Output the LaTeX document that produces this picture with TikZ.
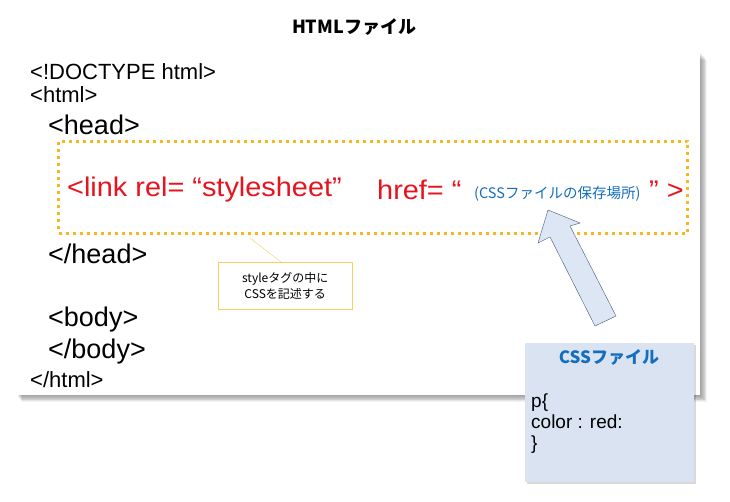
\documentclass[tikz,border=0pt]{standalone}
\usepackage{fontspec}
\setmainfont{Liberation Sans}
\newfontfamily\jp{Noto Sans CJK JP}
\definecolor{linkred}{RGB}{230,20,30}
\definecolor{dotyel}{RGB}{245,185,30}
\definecolor{cssblue}{RGB}{20,110,190}
\definecolor{cssfill}{RGB}{218,227,242}
\definecolor{arrfill}{RGB}{220,230,245}
\definecolor{arrline}{RGB}{70,90,120}
\begin{document}
\begin{tikzpicture}[x=1pt,y=-1pt,
  code/.style={anchor=west,inner sep=0pt,font=\fontsize{22}{22}\selectfont},
  big/.style={anchor=west,inner sep=0pt,font=\fontsize{27}{27}\selectfont},
  red/.style={big,text=linkred}]
\useasboundingbox (0,0) rectangle (730,502);
\fill[white] (0,0) rectangle (730,502);
\foreach \i in {1,...,8}{\fill[black,opacity=0.05] (17+\i*0.6,52+\i) rectangle (700+\i*0.9,395+\i*0.9);}
\node[draw=none,fill=white,minimum width=683pt,minimum height=343pt,anchor=north west,inner sep=0pt] (panel) at (17,52) {};
\node[font=\bfseries\jp\fontsize{18}{18}\selectfont] (title) at (354,27) {HTMLファイル};
\node[code] (l1) at (30,72) {<!DOCTYPE html>};
\node[code] (l2) at (30,95) {<html>};
\node[big] (l3) at (48,125) {<head>};
\node[draw=dotyel,line width=3pt,dash pattern=on 3pt off 4pt,minimum width=629pt,minimum height=92pt,anchor=north west,inner sep=0pt] (dots) at (57,140) {};
\node[red] (l4a) at (67,190) {\scalebox{1.07}[1]{<link rel= “stylesheet”}};
\node[red] (l4b) at (377,190) {\scalebox{1.07}[1]{href= “}};
\node[anchor=west,inner sep=0pt,text=cssblue,font=\jp\fontsize{14.5}{14.5}\selectfont] (l4c) at (474,194) {(CSSファイルの保存場所)};
\node[red] (l4d) at (649,190) {\scalebox{1.07}[1]{” >}};
\node[big] (l5) at (48,254) {</head>};
\node[big] (l6) at (48,320) {<body>};
\node[big] (l7) at (48,352) {</body>};
\node[code] (l8) at (30,380) {</html>};
\coordinate (ptr) at (250,238);
\node[draw=dotyel!70,fill=white,minimum width=134pt,minimum height=47pt,anchor=north west,inner sep=0pt] (note) at (218,262) {};
\draw[dotyel!70] (ptr) -- (281,262);
\node[align=center,font=\jp\fontsize{12}{16}\selectfont] (notet) at (note.center) {styleタグの中に\\CSSを記述する};
\fill[black,opacity=0.15] (527,345) rectangle (696,484);
\node[fill=cssfill,minimum width=169pt,minimum height=139pt,anchor=north west,inner sep=0pt] (css) at (525,343) {};
\node[font=\bfseries\jp\fontsize{17}{17}\selectfont,text=cssblue] (csst) at (609,357) {CSSファイル};
\node[anchor=north west,align=left,inner sep=0pt,font=\fontsize{19}{21}\selectfont] (cssc) at (531,394) {p\{\\color : red:\\\}};
\draw[arrline,fill=arrfill,line join=miter] (548,210) -- (580,223) -- (570,226) -- (616,316) -- (595,326) -- (550,237) -- (538,243) -- cycle;
\end{tikzpicture}
\end{document}
